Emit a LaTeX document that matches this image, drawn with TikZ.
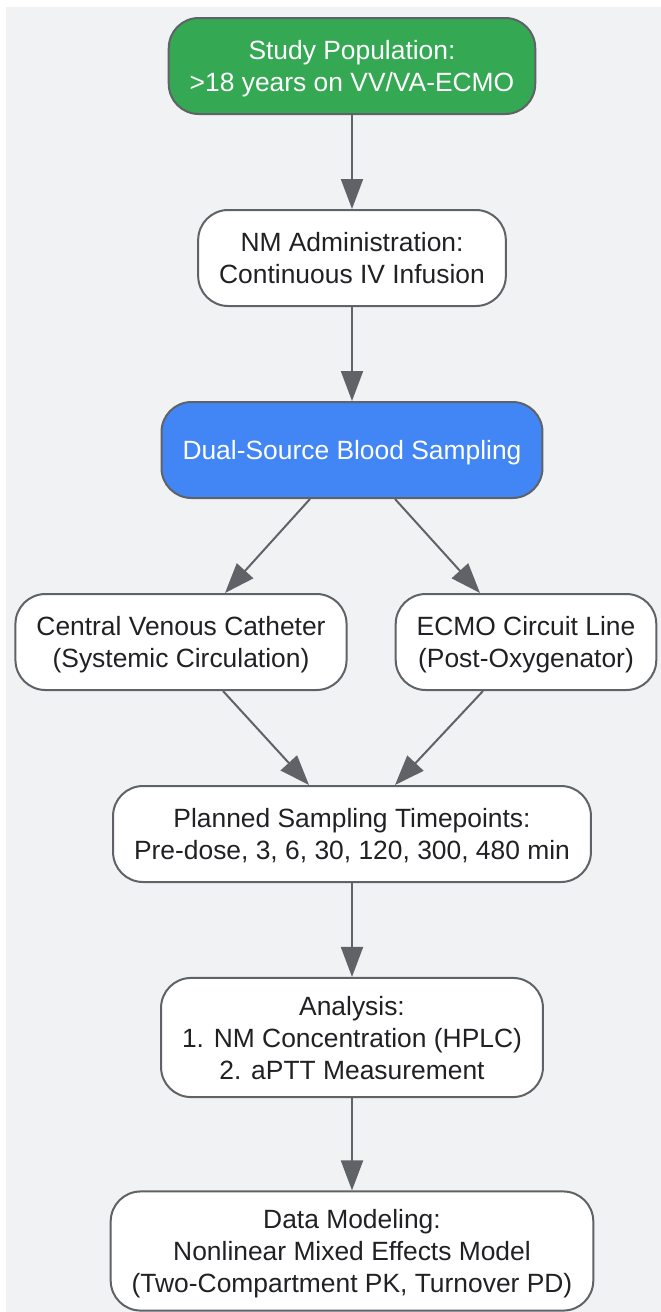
\documentclass[tikz,border=0pt]{standalone}
\usepackage{fontspec}
\setmainfont{Liberation Sans}
\usepackage{tikz}
\usetikzlibrary{arrows.meta, calc}

\definecolor{bgrey}{HTML}{F1F2F4}
\definecolor{edgegrey}{HTML}{5F6368}
\definecolor{inkdark}{HTML}{202124}
\definecolor{popgreen}{HTML}{34A853}
\definecolor{sampblue}{HTML}{4285F4}

\tikzset{
    box/.style={draw=edgegrey, line width=2pt, fill=white, rounded corners=30pt,
        minimum height=96pt, inner xsep=21pt, inner ysep=18pt, text depth=0pt,
        align=center, text=inkdark, font=\fontsize{26.4}{32}\selectfont},
    greenbox/.style={box, fill=popgreen, text=white},
    bluebox/.style={box, fill=sampblue, text=white},
    flow/.style={draw=edgegrey, line width=2pt, -{Triangle[length=30pt,width=22pt]}, color=edgegrey}
}

\begin{document}
\begin{tikzpicture}[x=1pt, y=1pt]
        \useasboundingbox (0,0) rectangle (661,-1312);
        \fill[bgrey] (6,-7) rectangle (661,-1312);

        \node[greenbox] (pop) at (352,-66) {Study Population:\\>18 years on VV/VA-ECMO};
        \node[box] (admin) at (352,-258) {NM Administration:\\Continuous IV Infusion};
        \node[bluebox] (dual) at (352,-450) {Dual-Source Blood Sampling};
        \node[box] (cvc) at (181,-642) {Central Venous Catheter\\(Systemic Circulation)};
        \node[box] (ecmo) at (526,-642) {ECMO Circuit Line\\(Post-Oxygenator)};
        \node[box] (times) at (352,-834) {Planned Sampling Timepoints:\\Pre-dose, 3, 6, 30, 120, 300, 480 min};
        \node[box] (analysis) at (352,-1037.5) {Analysis:\\1. NM Concentration (HPLC)\\2. aPTT Measurement};
        \node[box] (model) at (352,-1251) {Data Modeling:\\Nonlinear Mixed Effects Model\\(Two-Compartment PK, Turnover PD)};

        \draw[flow] (pop) -- (admin);
        \draw[flow] (admin) -- (dual);
        \draw[flow] ([xshift=-42pt]dual.south) -- ([xshift=44pt]cvc.north);
        \draw[flow] ([xshift=43pt]dual.south) -- ([xshift=-46pt]ecmo.north);
        \draw[flow] ([xshift=42pt]cvc.south) -- ([xshift=-43pt]times.north);
        \draw[flow] ([xshift=-43pt]ecmo.south) -- ([xshift=43pt]times.north);
        \draw[flow] (times) -- (analysis);
        \draw[flow] (analysis) -- (model);

    \end{tikzpicture}
\end{document}
